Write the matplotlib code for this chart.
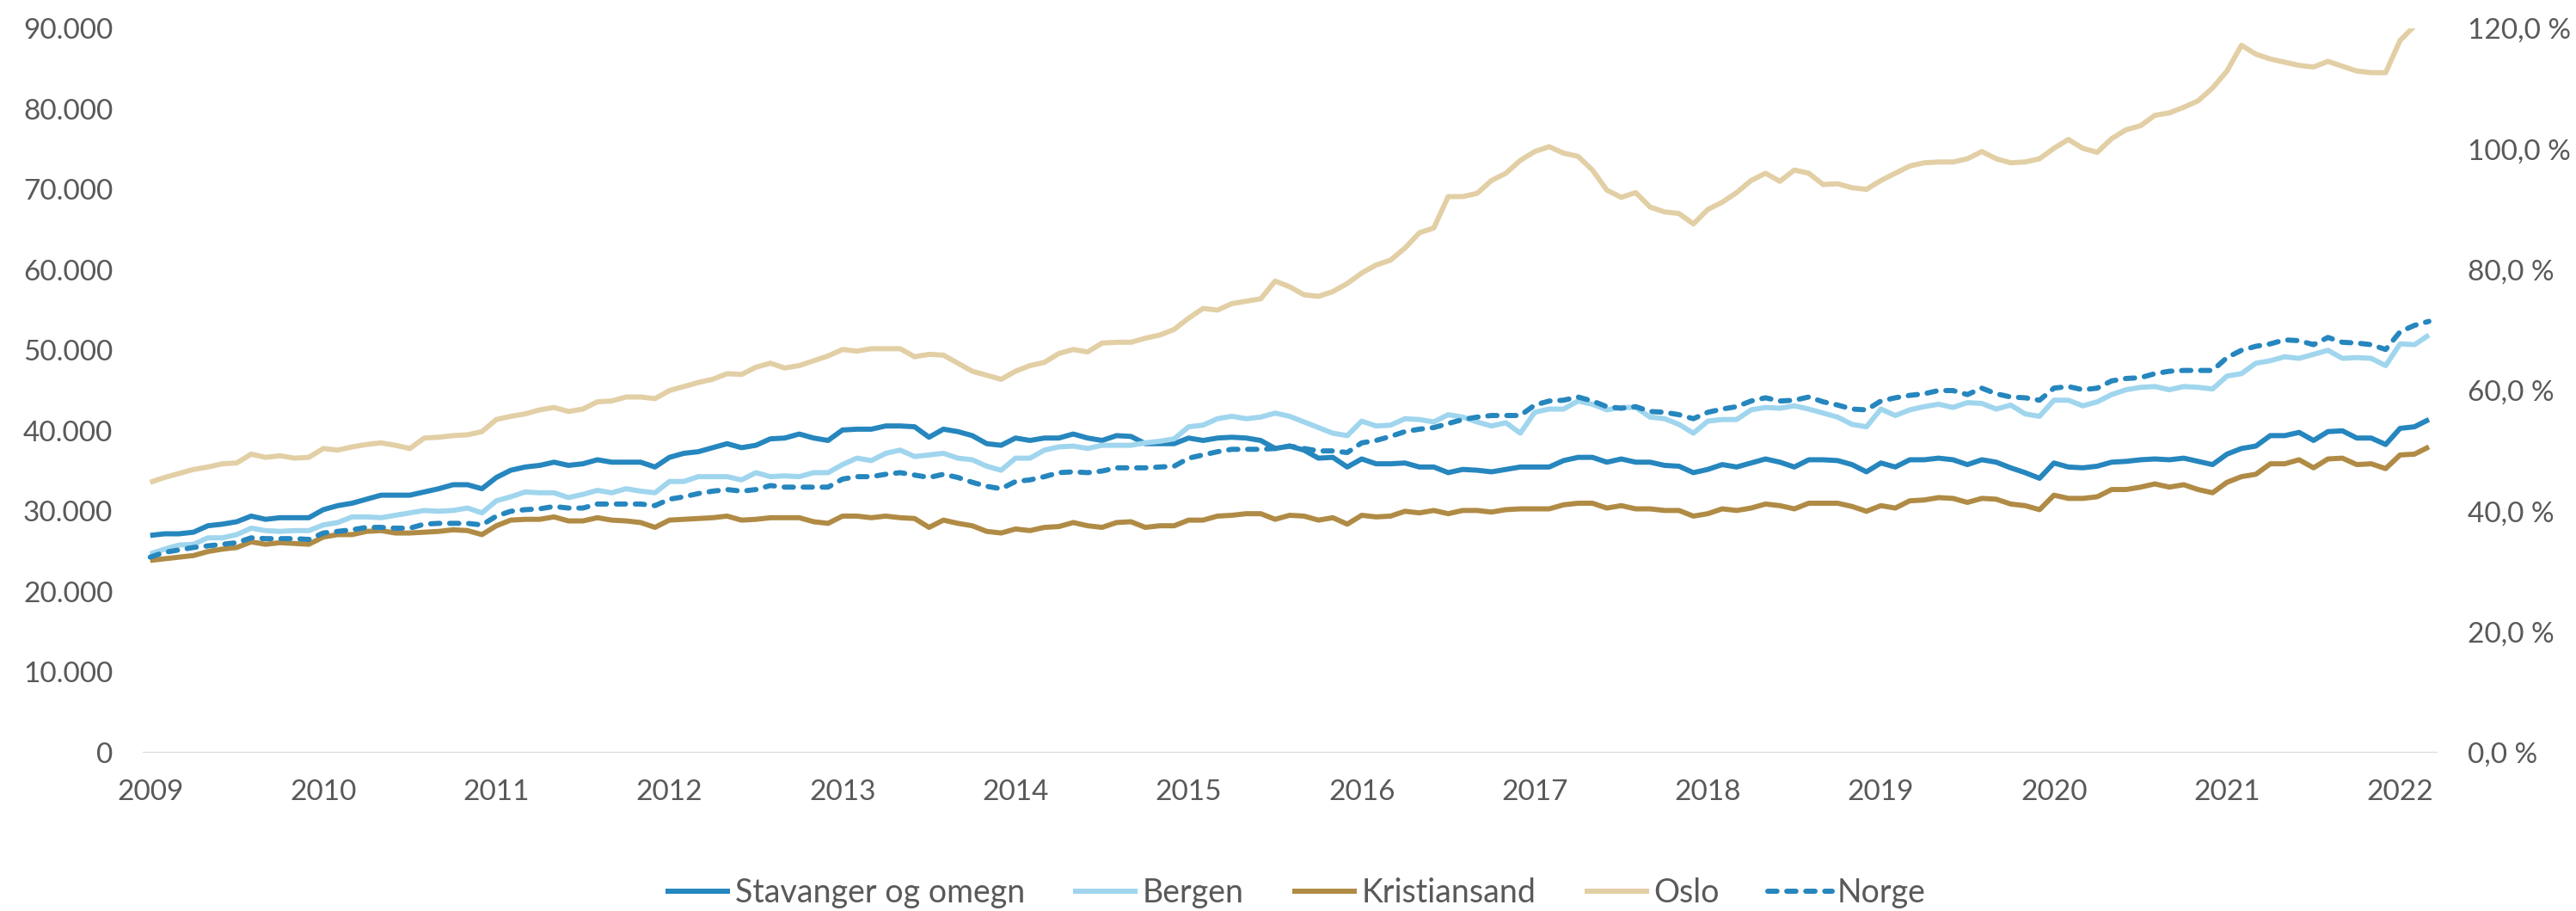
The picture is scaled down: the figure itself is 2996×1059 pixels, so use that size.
import numpy as np
import matplotlib
matplotlib.use("Agg")
import matplotlib.pyplot as plt
from matplotlib.ticker import FuncFormatter, MultipleLocator

# monthly values (in thousands), Jan 2009 - Mar 2022
stavanger = [
    27.0, 27.2, 27.2, 27.4, 28.2, 28.4, 28.7, 29.4, 29.0, 29.2, 29.2, 29.2,
    30.2, 30.7, 31.0, 31.5, 32.0, 32.0, 32.0, 32.4, 32.8, 33.3, 33.3, 32.8,
    34.2, 35.1, 35.5, 35.7, 36.1, 35.7, 35.9, 36.4, 36.1, 36.1, 36.1, 35.5,
    36.7, 37.2, 37.4, 37.9, 38.4, 37.9, 38.2, 39.0, 39.1, 39.6, 39.1, 38.8,
    40.1, 40.2, 40.2, 40.6, 40.6, 40.5, 39.2, 40.2, 39.9, 39.4, 38.4, 38.2,
    39.1, 38.8, 39.1, 39.1, 39.6, 39.1, 38.8, 39.4, 39.3, 38.4, 38.4, 38.4,
    39.1, 38.8, 39.1, 39.2, 39.1, 38.8, 37.8, 38.1, 37.6, 36.6, 36.7, 35.5,
    36.5, 35.9, 35.9, 36.0, 35.5, 35.5, 34.8, 35.2, 35.1, 34.9, 35.2, 35.5,
    35.5, 35.5, 36.3, 36.7, 36.7, 36.1, 36.5, 36.1, 36.1, 35.7, 35.6, 34.8,
    35.2, 35.8, 35.5, 36.0, 36.5, 36.1, 35.5, 36.4, 36.4, 36.3, 35.8, 34.9,
    36.0, 35.5, 36.4, 36.4, 36.6, 36.4, 35.8, 36.4, 36.1, 35.4, 34.8, 34.1,
    36.0, 35.5, 35.4, 35.6, 36.1, 36.2, 36.4, 36.5, 36.4, 36.6, 36.2, 35.8,
    37.1, 37.8, 38.1, 39.4, 39.4, 39.8, 38.8, 39.9, 40.0, 39.1, 39.1, 38.3,
    40.3, 40.5, 41.4]
bergen = [
    24.7, 25.3, 25.8, 25.9, 26.7, 26.7, 27.1, 27.9, 27.6, 27.5, 27.6, 27.6,
    28.3, 28.6, 29.3, 29.3, 29.2, 29.5, 29.8, 30.1, 30.0, 30.1, 30.4, 29.8,
    31.3, 31.8, 32.4, 32.3, 32.3, 31.7, 32.1, 32.6, 32.3, 32.8, 32.5, 32.3,
    33.7, 33.7, 34.3, 34.3, 34.3, 33.9, 34.8, 34.3, 34.4, 34.3, 34.8, 34.8,
    35.8, 36.6, 36.3, 37.2, 37.6, 36.8, 37.0, 37.2, 36.6, 36.4, 35.6, 35.1,
    36.6, 36.6, 37.6, 38.0, 38.1, 37.8, 38.2, 38.2, 38.2, 38.5, 38.7, 39.0,
    40.5, 40.7, 41.5, 41.8, 41.5, 41.7, 42.2, 41.8, 41.1, 40.4, 39.7, 39.4,
    41.2, 40.6, 40.7, 41.5, 41.4, 41.1, 42.0, 41.7, 41.1, 40.6, 41.0, 39.7,
    42.3, 42.7, 42.7, 43.7, 43.3, 42.6, 42.9, 42.9, 41.7, 41.5, 40.8, 39.7,
    41.2, 41.4, 41.4, 42.6, 42.9, 42.8, 43.1, 42.7, 42.2, 41.7, 40.8, 40.5,
    42.7, 41.9, 42.6, 43.0, 43.3, 42.9, 43.5, 43.4, 42.7, 43.2, 42.1, 41.8,
    43.8, 43.8, 43.1, 43.6, 44.5, 45.1, 45.4, 45.5, 45.1, 45.5, 45.4, 45.2,
    46.8, 47.1, 48.4, 48.7, 49.2, 49.0, 49.5, 50.0, 49.0, 49.1, 49.0, 48.1,
    50.8, 50.7, 51.9]
kristiansand = [
    23.9, 24.1, 24.3, 24.5, 25.0, 25.3, 25.5, 26.2, 25.9, 26.1, 26.0, 25.9,
    26.8, 27.1, 27.1, 27.5, 27.6, 27.3, 27.3, 27.4, 27.5, 27.7, 27.6, 27.1,
    28.2, 28.9, 29.0, 29.0, 29.3, 28.8, 28.8, 29.2, 28.9, 28.8, 28.6, 28.0,
    28.9, 29.0, 29.1, 29.2, 29.4, 28.9, 29.0, 29.2, 29.2, 29.2, 28.7, 28.5,
    29.4, 29.4, 29.2, 29.4, 29.2, 29.1, 28.0, 28.9, 28.5, 28.2, 27.5, 27.3,
    27.8, 27.6, 28.0, 28.1, 28.6, 28.2, 28.0, 28.6, 28.7, 28.0, 28.2, 28.2,
    28.9, 28.9, 29.4, 29.5, 29.7, 29.7, 29.0, 29.5, 29.4, 28.9, 29.2, 28.4,
    29.5, 29.3, 29.4, 30.0, 29.8, 30.1, 29.7, 30.1, 30.1, 29.9, 30.2, 30.3,
    30.3, 30.3, 30.8, 31.0, 31.0, 30.4, 30.7, 30.3, 30.3, 30.1, 30.1, 29.4,
    29.7, 30.3, 30.1, 30.4, 30.9, 30.7, 30.3, 31.0, 31.0, 31.0, 30.6, 30.0,
    30.7, 30.4, 31.3, 31.4, 31.7, 31.6, 31.1, 31.6, 31.5, 30.9, 30.7, 30.2,
    32.0, 31.6, 31.6, 31.8, 32.7, 32.7, 33.0, 33.4, 33.0, 33.3, 32.7, 32.3,
    33.6, 34.3, 34.6, 35.9, 35.9, 36.4, 35.4, 36.5, 36.6, 35.8, 35.9, 35.3,
    37.0, 37.1, 38.0]
oslo = [
    33.6, 34.2, 34.7, 35.2, 35.5, 35.9, 36.0, 37.1, 36.7, 36.9, 36.6, 36.7,
    37.8, 37.6, 38.0, 38.3, 38.5, 38.2, 37.8, 39.1, 39.2, 39.4, 39.5, 39.9,
    41.4, 41.8, 42.1, 42.6, 42.9, 42.4, 42.7, 43.6, 43.7, 44.2, 44.2, 44.0,
    45.0, 45.5, 46.0, 46.4, 47.1, 47.0, 47.9, 48.4, 47.8, 48.1, 48.7, 49.3,
    50.1, 49.9, 50.2, 50.2, 50.2, 49.2, 49.5, 49.4, 48.4, 47.4, 46.9, 46.4,
    47.4, 48.1, 48.5, 49.6, 50.1, 49.8, 50.9, 51.0, 51.0, 51.5, 51.9, 52.6,
    54.0, 55.2, 55.0, 55.8, 56.1, 56.4, 58.6, 57.9, 56.9, 56.7, 57.3, 58.3,
    59.6, 60.6, 61.2, 62.7, 64.6, 65.2, 69.1, 69.1, 69.5, 71.1, 72.0, 73.6,
    74.7, 75.3, 74.5, 74.1, 72.4, 69.9, 69.0, 69.6, 67.8, 67.2, 67.0, 65.7,
    67.5, 68.4, 69.6, 71.1, 72.0, 71.0, 72.4, 72.0, 70.6, 70.7, 70.2, 70.0,
    71.1, 72.0, 72.9, 73.3, 73.4, 73.4, 73.8, 74.7, 73.8, 73.3, 73.4, 73.8,
    75.1, 76.2, 75.1, 74.6, 76.3, 77.4, 77.9, 79.2, 79.5, 80.2, 81.0, 82.6,
    84.7, 87.9, 86.8, 86.2, 85.8, 85.4, 85.2, 85.9, 85.3, 84.7, 84.5, 84.5,
    88.5, 90.3, 91.5]
norge = [
    24.3, 24.9, 25.2, 25.5, 25.7, 25.9, 26.1, 26.7, 26.6, 26.6, 26.6, 26.5,
    27.3, 27.5, 27.7, 28.0, 28.0, 27.9, 27.9, 28.4, 28.5, 28.5, 28.5, 28.3,
    29.4, 30.0, 30.2, 30.3, 30.6, 30.4, 30.4, 30.9, 30.9, 30.9, 30.9, 30.7,
    31.5, 31.8, 32.2, 32.5, 32.7, 32.5, 32.7, 33.2, 33.0, 33.0, 33.0, 33.0,
    34.0, 34.3, 34.3, 34.6, 34.8, 34.5, 34.2, 34.6, 34.2, 33.6, 33.1, 32.8,
    33.7, 33.9, 34.3, 34.8, 34.9, 34.8, 35.0, 35.4, 35.4, 35.4, 35.5, 35.6,
    36.6, 37.0, 37.4, 37.7, 37.7, 37.7, 37.8, 38.1, 37.8, 37.5, 37.5, 37.3,
    38.5, 38.8, 39.3, 39.9, 40.2, 40.4, 40.9, 41.4, 41.7, 41.9, 41.9, 41.9,
    43.2, 43.7, 43.8, 44.2, 43.7, 43.0, 42.8, 43.0, 42.4, 42.3, 42.0, 41.5,
    42.3, 42.7, 43.0, 43.7, 44.1, 43.7, 43.8, 44.2, 43.6, 43.2, 42.7, 42.6,
    43.7, 44.1, 44.4, 44.6, 45.0, 45.0, 44.5, 45.3, 44.6, 44.2, 44.1, 43.8,
    45.3, 45.5, 45.1, 45.3, 46.2, 46.5, 46.6, 47.1, 47.4, 47.5, 47.5, 47.5,
    49.1, 50.0, 50.5, 50.8, 51.3, 51.2, 50.7, 51.6, 51.0, 50.9, 50.7, 50.1,
    52.3, 53.1, 53.6]

names = ["Stavanger og omegn", "Bergen", "Kristiansand", "Oslo", "Norge"]
years = list(range(2009, 2023))

colors = ["#2686BE", "#A0D5EE", "#B08B45", "#E2CFA5", "#2686BE"]
grey = "#595959"

plt.rcParams['font.family'] = ['Lato', 'DejaVu Sans']

fig = plt.figure(figsize=(29.96, 10.59), dpi=100)
ax = fig.add_axes([166 / 2996, 1 - 875 / 1059, (2835 - 166) / 2996, (875 - 33) / 1059])

months = np.arange(len(stavanger))
series = [stavanger, bergen, kristiansand, oslo, norge]
for i, (name, vals) in enumerate(zip(names, series)):
    y = np.array(vals) * 1000
    if name == "Norge":
        ax.plot(months, y, color=colors[i], lw=4.3, label=name,
                dashes=(1.8, 1.9), dash_capstyle='round', zorder=5)
    else:
        ax.plot(months, y, color=colors[i], lw=4.3, label=name,
                solid_capstyle='butt', zorder=3)

ax.set_xlim(-0.52, 158.6)
ax.set_ylim(0, 90000)
ax.yaxis.set_major_locator(MultipleLocator(10000))
ax.yaxis.set_major_formatter(FuncFormatter(lambda v, p: f"{int(v):,}".replace(",", ".")))
ax.set_xticks([12 * (y - 2009) for y in years])
ax.set_xticklabels([str(y) for y in years])

for s in ax.spines.values():
    s.set_visible(False)
ax.axhline(0, color="#d9d9d9", lw=1.6, zorder=1)
ax.tick_params(axis='both', length=0, labelsize=24, labelcolor=grey)
ax.tick_params(axis='y', pad=25)
ax.tick_params(axis='x', pad=22)

# right-hand percentage axis
ax2 = ax.twinx()
ax2.set_ylim(0, 120)
ax2.yaxis.set_major_locator(MultipleLocator(20))
ax2.yaxis.set_major_formatter(FuncFormatter(lambda v, p: f"{v:.1f} %".replace(".", ",")))
for s in ax2.spines.values():
    s.set_visible(False)
ax2.tick_params(axis='y', length=0, labelsize=24, labelcolor=grey, pad=25)

handles, labels = ax.get_legend_handles_labels()
leg = fig.legend(handles, labels, loc='center', bbox_to_anchor=(0.503, 0.02), ncol=5,
                 frameon=False, fontsize=27, handlelength=2.0, handletextpad=0.15,
                 columnspacing=1.5, labelcolor=grey)

fig.savefig("out.png", dpi=100)
